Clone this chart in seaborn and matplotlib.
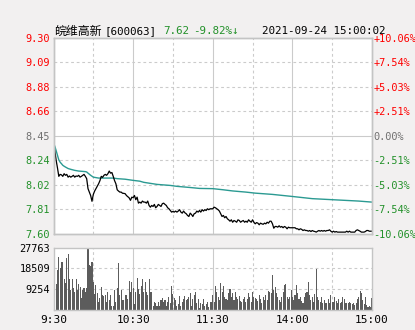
import numpy as np
import pandas as pd
import matplotlib
matplotlib.use("Agg")
import matplotlib.pyplot as plt
import seaborn as sns

# ---------------- data ----------------
title_name = "皖维高新"
title_code = "[600063]"
last_price_text = "7.62"
change_text = "-9.82%↓"
timestamp_text = "2021-09-24 15:00:02"

prev_close = 8.45
price_tick_labels = ["7.60", "7.81", "8.02", "8.24", "8.45", "8.66", "8.88", "9.09", "9.30"]
pct_tick_labels = ["-10.06%", "-7.54%", "-5.03%", "-2.51%", "0.00%", "+2.51%", "+5.03%", "+7.54%", "+10.06%"]
vol_tick_values = [9254, 18509, 27763]
vol_tick_labels = ["9254", "18509", "27763"]
time_labels = ["9:30", "10:30", "11:30", "14:00", "15:00"]
time_label_minutes = [0, 60, 120, 180, 240]

price = [
    8.352, 8.32, 8.236, 8.17, 8.097, 8.114, 8.11, 8.097, 8.12, 8.106,
    8.114, 8.09, 8.10, 8.09, 8.097, 8.106, 8.09, 8.10, 8.097, 8.106,
    8.09, 8.097, 8.106, 8.114, 8.097, 8.077, 7.99, 7.96, 7.93, 7.88,
    7.94, 7.969, 7.99, 8.01, 8.033, 8.06, 8.097, 8.088, 8.106, 8.114,
    8.106, 8.12, 8.143, 8.125, 8.13, 8.097, 8.06, 8.033, 7.98, 7.969,
    7.96, 7.96, 7.95, 7.949, 7.946, 7.93, 7.92, 7.91, 7.888, 7.916,
    7.911, 7.931, 7.894, 7.916, 7.864, 7.873, 7.864, 7.882, 7.873, 7.873,
    7.864, 7.882, 7.844, 7.829, 7.844, 7.835, 7.853, 7.824, 7.835, 7.853,
    7.844, 7.835, 7.859, 7.864, 7.853, 7.844, 7.824, 7.815, 7.80, 7.786,
    7.792, 7.786, 7.795, 7.786, 7.795, 7.807, 7.786, 7.777, 7.795, 7.78,
    7.772, 7.757, 7.748, 7.777, 7.765, 7.748, 7.772, 7.777, 7.795, 7.786,
    7.80, 7.786, 7.807, 7.795, 7.807, 7.80, 7.815, 7.807, 7.815, 7.815,
    7.815,
    7.829, 7.824, 7.815, 7.807, 7.795, 7.772, 7.748, 7.757, 7.737, 7.748,
    7.728, 7.719, 7.707, 7.719, 7.698, 7.713, 7.707, 7.698, 7.719, 7.713,
    7.698, 7.707, 7.713, 7.698, 7.707, 7.698, 7.719, 7.707, 7.698, 7.719,
    7.698, 7.684, 7.695, 7.690, 7.676, 7.690, 7.684, 7.680, 7.690, 7.684,
    7.698, 7.690, 7.707, 7.707, 7.684, 7.646, 7.661, 7.661, 7.655, 7.667,
    7.655, 7.661, 7.65, 7.661, 7.655, 7.641, 7.655, 7.65, 7.65, 7.65,
    7.65, 7.65, 7.641, 7.641, 7.632, 7.641, 7.636, 7.626, 7.632, 7.626,
    7.626, 7.62, 7.626, 7.617, 7.626, 7.62, 7.617, 7.612, 7.62, 7.626,
    7.62, 7.626, 7.62, 7.626, 7.62, 7.626, 7.626, 7.632, 7.62, 7.612,
    7.62, 7.612, 7.617, 7.612, 7.612, 7.612, 7.612, 7.612, 7.612, 7.612,
    7.62, 7.612, 7.62, 7.612, 7.612, 7.612, 7.612, 7.626, 7.632, 7.626,
    7.62, 7.612, 7.612, 7.612, 7.617, 7.626, 7.626, 7.62, 7.62, 7.62,
]

avg_minutes = [0, 1, 2, 3, 4, 5, 6, 7, 8, 9, 11, 13, 16, 19, 24, 25, 26, 28, 30, 34,
               45, 48, 54, 60, 65, 68, 73, 78, 88, 93, 103, 110, 120, 128, 135, 145,
               152, 165, 180, 195, 210, 230, 240]
avg_price = [8.387, 8.358, 8.32, 8.28, 8.24, 8.22, 8.207, 8.193, 8.185, 8.178, 8.165,
             8.158, 8.149, 8.143, 8.138, 8.135, 8.125, 8.106, 8.09, 8.082, 8.082, 8.077,
             8.072, 8.062, 8.055, 8.045, 8.036, 8.027, 8.018, 8.01, 8.0, 7.992, 7.99,
             7.98, 7.97, 7.96, 7.951, 7.94, 7.922, 7.903, 7.894, 7.882, 7.873]

volume = [
    20000, 16500, 11400, 17700, 23700, 18800, 21500, 21500, 13600, 12000,
    23300, 24900, 13600, 8600, 13600, 9700, 7900, 13600, 8900, 11400,
    10200, 5200, 8900, 9700, 7900, 9700, 27300, 20000, 19700, 21500,
    12400, 6900, 11000, 7300, 3300, 5200, 10000, 6500, 6100, 6700,
    3300, 7900, 4100, 6700, 1700, 1700, 8600, 3300, 9700, 20800,
    6500, 8900, 4100, 4100, 6500, 6500, 4700, 12700, 7900, 12400,
    9700, 2300, 8000, 14000, 9200, 6900, 10400, 13600, 8000, 12400,
    8000, 6500, 13600, 7900, 8000, 1700, 3600, 3000, 1700, 3600,
    1700, 4100, 5200, 3300, 4100, 1400, 3600, 5700, 3000, 10400,
    6900, 5200, 4100, 1700, 2300, 6100, 1700, 3300, 4700, 6100,
    4100, 4700, 5700, 7500, 1700, 4700, 6500, 8000, 3000, 4700,
    600, 3000, 2300, 4700, 1700, 2300, 3300, 1000, 3600, 3300,
    6520, 3490, 10620, 8040, 5760, 4250, 12140, 8040, 10620, 5760, 4800,
    4250, 7590, 9100, 5760, 7280, 4250, 8040, 5760, 4550, 6070, 3800,
    3490, 4550, 5460, 3490, 4550, 7280, 5460, 3490, 8040, 5760, 5200,
    4550, 3940, 6520, 4550, 3030, 5760, 4250, 6520, 4100, 8500, 8040,
    7280, 15630, 8800, 10010, 7590, 5760, 4250, 3490, 5760, 8040,
    11070, 11530, 5760, 4550, 5460, 8800, 5460, 4250, 6520, 11070,
    7590, 4550, 5460, 3940, 3030, 5760, 7280, 8040, 12590, 6520,
    4250, 5460, 3490, 6980, 18200, 5460, 4250, 3490, 5460, 2730,
    4250, 3030, 3030, 4550, 2730, 6520, 3200, 3490, 5460, 3940, 3030,
    4550, 2730, 3490, 5460, 4550, 3030, 2900, 2730, 3490, 2730, 2430,
    3030, 1970, 3030, 4550, 5460, 8500, 7280, 4250, 2430, 5460, 2200,
    1210, 1520, 1210, 5010,
]

minutes = list(range(len(price)))

# ---------------- style ----------------
sns.set_style("white")
plt.rcParams["font.family"] = ["DejaVu Sans Mono", "DejaVu Sans", "Noto Sans CJK SC"]

RED = "#ff0000"
GREEN = "#23912a"
GRAY_TXT = "#707070"
GRID = "#cbcbcb"
SPINE = "#c4c4c4"
BG = "#f2f0f0"
TEAL = "#2b9a92"
FS = 7.4

W, H = 415, 330
fig = plt.figure(figsize=(W / 100, H / 100), dpi=100, facecolor=BG)

def fx(px):
    return px / W

def fy(py):
    return 1 - py / H

L, R = 53.5, 372.0
ax = fig.add_axes([fx(L), fy(233.5), fx(R - L), (233.5 - 38) / H])
axv = fig.add_axes([fx(L), fy(309.5), fx(R - L), (309.5 - 248) / H])

for a in (ax, axv):
    a.set_facecolor("white")
    for s in a.spines.values():
        s.set_color(SPINE)
        s.set_linewidth(1.0)
    a.set_xlim(0, 240)

# vertical grid
for a in (ax, axv):
    for m in [30, 90, 150, 210]:
        a.axvline(m, color=GRID, lw=0.8, ls=(0, (2.5, 2.5)), zorder=0)
    for m in [60, 120, 180]:
        a.axvline(m, color=GRID, lw=0.8, zorder=0)

# price axis
lo, hi = 7.60, 9.30
ticks = np.linspace(lo, hi, 9)
ax.set_ylim(lo, hi)
for t in ticks[1:-1]:
    if abs(t - prev_close) < 1e-6:
        ax.axhline(t, color=GRID, lw=0.8, zorder=0)
    else:
        ax.axhline(t, color=GRID, lw=0.8, ls=(0, (2.5, 2.5)), zorder=0)

sns.lineplot(x=avg_minutes, y=avg_price, ax=ax, color=TEAL, lw=1.0, estimator=None)
sns.lineplot(x=minutes, y=price, ax=ax, color="black", lw=0.9, estimator=None)
ax.set_xlim(0, 240)
ax.set_ylim(lo, hi)
ax.set_xticks([])
ax.set_xlabel("")
ax.set_ylabel("")

ax.set_yticks(ticks)
ax.set_yticklabels(price_tick_labels, fontsize=FS)
ax.tick_params(axis="y", length=0, pad=2.5)
colors = [GREEN] * 4 + [GRAY_TXT] + [RED] * 4
for lab, c in zip(ax.get_yticklabels(), colors):
    lab.set_color(c)

axr = ax.twinx()
axr.set_ylim(lo, hi)
axr.set_yticks(ticks)
axr.set_yticklabels(pct_tick_labels, fontsize=FS)
axr.tick_params(axis="y", length=0, pad=1)
for lab, c in zip(axr.get_yticklabels(), colors):
    lab.set_color(c)
for s in axr.spines.values():
    s.set_color(SPINE)
    s.set_linewidth(1.0)

# volume
vmax = 27763
sns.barplot(x=minutes, y=volume, ax=axv, native_scale=True, color="#5c5c5c",
            saturation=1, width=0.8, linewidth=0, errorbar=None)
axv.set_xlim(0, 240)
axv.set_ylim(0, vmax)
for v in vol_tick_values[:-1]:
    axv.axhline(v, color=GRID, lw=0.8, ls=(0, (2.5, 2.5)), zorder=0)
axv.set_yticks(vol_tick_values)
axv.set_yticklabels(vol_tick_labels, fontsize=FS, color="black")
axv.tick_params(axis="y", length=0, pad=2.5)
axv.set_xticks(time_label_minutes)
axv.set_xticklabels(time_labels, fontsize=FS + 0.6, color="black")
axv.tick_params(axis="x", length=0, pad=4)
axv.set_xlabel("")
axv.set_ylabel("")

# header
hy = fy(31)
fig.text(fx(54), hy, title_name, fontsize=8.6, family=["Noto Sans CJK SC", "DejaVu Sans"],
         va="center", ha="left", color="black")
fig.text(fx(104), hy, title_code, fontsize=FS + 0.4, va="center", ha="left", color="black")
fig.text(fx(163), hy, last_price_text, fontsize=FS + 0.4, va="center", ha="left", color=GREEN)
fig.text(fx(193), hy, change_text, fontsize=FS + 0.4, va="center", ha="left", color=GREEN,
         family=["DejaVu Sans Mono", "DejaVu Sans"])
fig.text(fx(262), hy, timestamp_text, fontsize=FS + 0.4, va="center", ha="left", color="black")

fig.savefig("out.png", dpi=100, facecolor=BG)
